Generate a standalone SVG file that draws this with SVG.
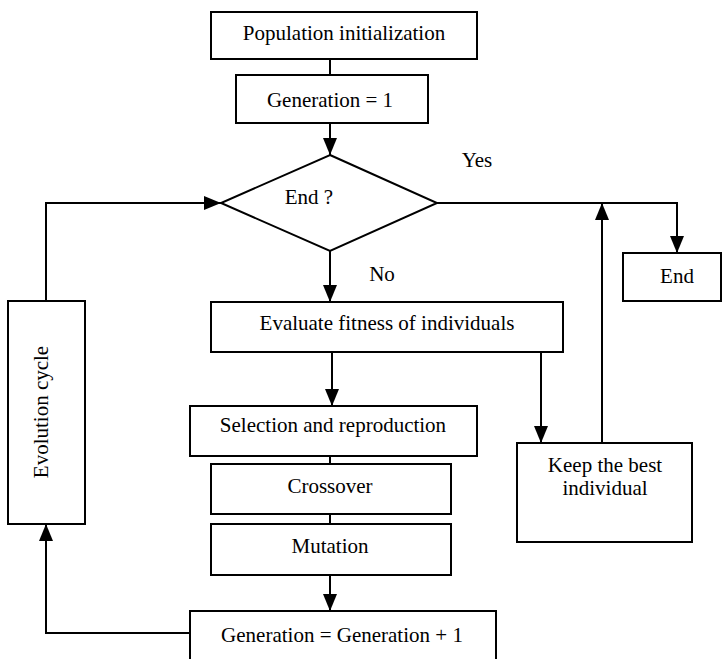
<svg xmlns="http://www.w3.org/2000/svg" width="722" height="659" viewBox="0 0 722 659">
<style>
.box{fill:#fff;stroke:#000;stroke-width:2}
.t{font-family:"Liberation Serif","Times New Roman",serif;font-size:21px;fill:#000;text-anchor:middle}
.c{fill:none;stroke:#000;stroke-width:2}
.a{marker-end:url(#ah)}
</style>
<defs>
<marker id="ah" markerUnits="userSpaceOnUse" markerWidth="17" markerHeight="14" refX="17" refY="7" orient="auto" viewBox="0 0 17 14">
<path d="M0,0 L17,7 L0,14 z" fill="#000"/>
</marker>
</defs>
<rect width="722" height="659" fill="#fff"/>
<g id="connectors">
<line class="c" x1="330" y1="59" x2="330" y2="75"/>
<line class="c a" x1="330" y1="123" x2="330" y2="155"/>
<line class="c a" x1="330" y1="251" x2="330" y2="302"/>
<polyline class="c a" points="437,203 677,203 677,253"/>
<line class="c a" x1="602" y1="443" x2="602" y2="203"/>
<line class="c a" x1="332" y1="352" x2="332" y2="406"/>
<line class="c a" x1="541" y1="352" x2="541" y2="443"/>
<line class="c" x1="330" y1="456" x2="330" y2="464"/>
<line class="c" x1="330" y1="514" x2="330" y2="524"/>
<line class="c a" x1="330" y1="575" x2="330" y2="611"/>
<polyline class="c a" points="190,633 46,633 46,524"/>
<polyline class="c a" points="46,301 46,203 221,203"/>
</g>
<g id="pop-init">
<rect class="box" x="211" y="12" width="266" height="47"/>
<text class="t" x="344" y="40">Population initialization</text>
</g>
<g id="gen1">
<rect class="box" x="236" y="75" width="192" height="48"/>
<text class="t" x="330" y="107">Generation = 1</text>
</g>
<g id="end-decision">
<polygon class="box" points="330,155 437,203 330,251 221,203"/>
<text class="t" x="309" y="204">End ?</text>
</g>
<g id="yes-label">
<text class="t" x="477" y="167">Yes</text>
</g>
<g id="no-label">
<text class="t" x="382" y="281">No</text>
</g>
<g id="end">
<rect class="box" x="623" y="253" width="98" height="48"/>
<text class="t" x="677" y="283">End</text>
</g>
<g id="evaluate">
<rect class="box" x="211" y="302" width="352" height="50"/>
<text class="t" x="387" y="330">Evaluate fitness of individuals</text>
</g>
<g id="selection">
<rect class="box" x="190" y="406" width="287" height="50"/>
<text class="t" x="333" y="432">Selection and reproduction</text>
</g>
<g id="crossover">
<rect class="box" x="211" y="464" width="240" height="50"/>
<text class="t" x="330" y="493">Crossover</text>
</g>
<g id="mutation">
<rect class="box" x="211" y="524" width="240" height="51"/>
<text class="t" x="330" y="553">Mutation</text>
</g>
<g id="gen-inc">
<rect class="box" x="190" y="611" width="306" height="50"/>
<text class="t" x="342" y="642">Generation = Generation + 1</text>
</g>
<g id="keep-best">
<rect class="box" x="517" y="443" width="175" height="99"/>
<text class="t" x="605" y="472">Keep the best</text>
<text class="t" x="605" y="495">individual</text>
</g>
<g id="evolution">
<rect class="box" x="8" y="301" width="77" height="223"/>
<text class="t" transform="translate(48,412) rotate(-90)">Evolution cycle</text>
</g>
</svg>
